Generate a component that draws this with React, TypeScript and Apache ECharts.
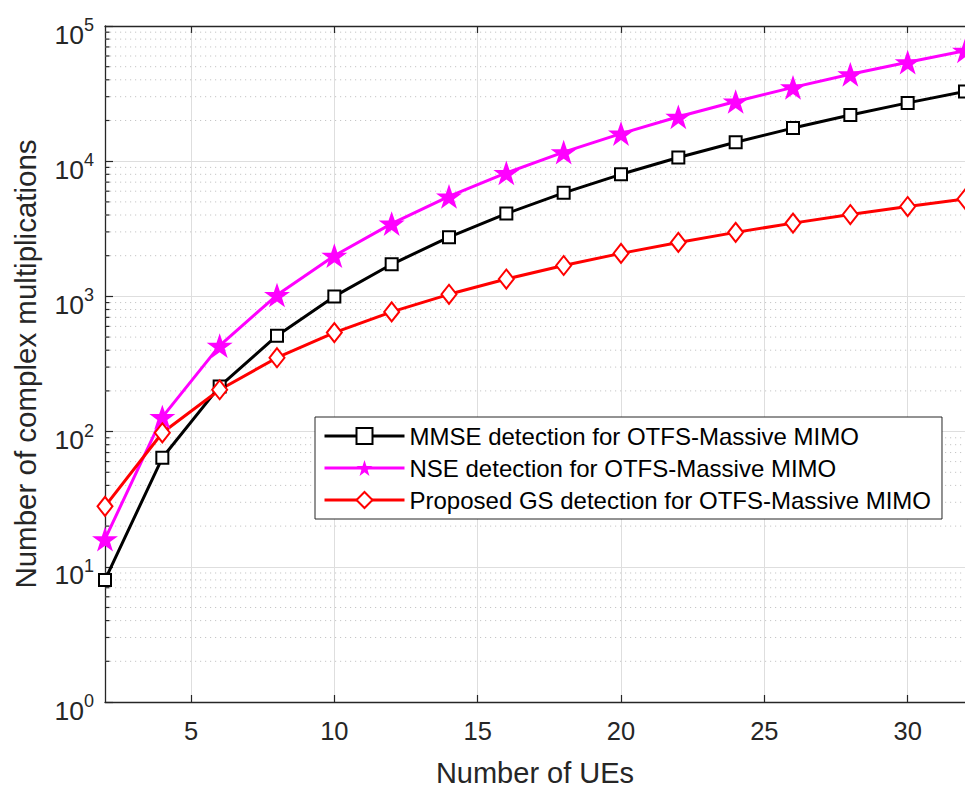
import React, { useEffect, useRef } from 'react';
import * as echarts from 'echarts';

const ues = [2, 4, 6, 8, 10, 12, 14, 16, 18, 20, 22, 24, 26, 28, 30, 32];
const mmse = [8, 64, 216, 512, 1000, 1728, 2744, 4096, 5832, 8000, 10648, 13824, 17576, 21952, 27000, 32768];
const nse = [16, 128, 432, 1024, 2000, 3456, 5488, 8192, 11664, 16000, 21296, 27648, 35152, 43904, 54000, 65536];
const gs = [28, 98, 204, 352, 540, 768, 1036, 1344, 1692, 2080, 2508, 2976, 3484, 4032, 4620, 5248];
const xTicks = [5, 10, 15, 20, 25, 30];
const minorY = [
  2, 3, 4, 5, 6, 7, 8, 9,
  20, 30, 40, 50, 60, 70, 80, 90,
  200, 300, 400, 500, 600, 700, 800, 900,
  2000, 3000, 4000, 5000, 6000, 7000, 8000, 9000,
  20000, 30000, 40000, 50000, 60000, 70000, 80000, 90000,
];
const names = [
  'MMSE detection for OTFS-Massive MIMO',
  'NSE detection for OTFS-Massive MIMO',
  'Proposed GS detection for OTFS-Massive MIMO',
];

const FONT = 'Liberation Sans, Arial, Helvetica, sans-serif';
const AX = '#262626';
const STAR = 'path://M12,0 L14.9,8.6 L24,8.6 L16.6,14 L19.4,22.8 L12,17.4 L4.6,22.8 L7.4,14 L0,8.6 L9.1,8.6 Z';

export default function App() {
  const ref = useRef<HTMLDivElement>(null);
  useEffect(() => {
    if (!ref.current) return;
    const chart = echarts.init(ref.current, null, { renderer: 'svg' });
    const xMin = ues[0];
    const xMax = ues[ues.length - 1];
    chart.setOption({
      animation: false,
      backgroundColor: '#ffffff',
      textStyle: { fontFamily: FONT },
      grid: { left: 105, top: 26, width: 868, height: 685 },
      legend: {
        orient: 'vertical',
        left: 315,
        top: 417,
        data: names,
        selectedMode: false,
        backgroundColor: '#ffffff',
        borderColor: AX,
        borderWidth: 1,
        borderRadius: 0,
        padding: [7, 11, 7, 8],
        itemWidth: 80,
        itemHeight: 20,
        itemGap: 8,
        lineStyle: { width: 3 },
        textStyle: { fontFamily: FONT, fontSize: 24, color: '#000' },
      },
      xAxis: [
        {
          type: 'value',
          min: xMin,
          max: xMax,
          name: 'Number of UEs',
          nameLocation: 'middle',
          nameGap: 56,
          nameTextStyle: { fontFamily: FONT, fontSize: 29, color: AX },
          axisLine: { lineStyle: { color: AX, width: 1.3 } },
          axisTick: { inside: true, length: 7, customValues: xTicks, lineStyle: { color: AX, width: 1.2 } },
          axisLabel: { customValues: xTicks, fontFamily: FONT, fontSize: 25.5, color: AX, margin: 16 },
          splitLine: { show: true, lineStyle: { color: '#dedede', width: 1 } },
        },
        {
          type: 'value',
          position: 'top',
          min: xMin,
          max: xMax,
          axisLine: { show: true, lineStyle: { color: AX, width: 1.3 } },
          axisTick: { show: true, inside: true, length: 7, customValues: xTicks, lineStyle: { color: AX, width: 1.2 } },
          axisLabel: { show: false },
          splitLine: { show: false },
        },
      ],
      yAxis: {
        type: 'log',
        logBase: 10,
        min: 1,
        max: 100000,
        name: 'Number of complex multiplications',
        nameLocation: 'middle',
        nameGap: 65,
        nameTextStyle: { fontFamily: FONT, fontSize: 29.5, color: AX },
        axisLine: { show: true, lineStyle: { color: AX, width: 1.3 } },
        axisTick: { show: true, inside: true, length: 8, lineStyle: { color: AX, width: 1.2 } },
        axisLabel: {
          margin: 11,
          padding: [12, 0, 0, 0],
          formatter: (v: number) => `{b|10}{s|${Math.round(Math.log10(v))}}`,
          rich: {
            b: { fontFamily: FONT, fontSize: 26.5, color: AX, lineHeight: 32, verticalAlign: 'bottom' },
            s: { fontFamily: FONT, fontSize: 18, color: AX, lineHeight: 16, verticalAlign: 'top' },
          },
        },
        splitLine: { show: true, lineStyle: { color: '#dedede', width: 1 } },
      },
      series: [
        {
          type: 'custom',
          name: 'minor',
          silent: true,
          z: 1,
          data: minorY.map((v) => [xMin, v]),
          renderItem: (_p: any, api: any) => {
            const v = api.value(1);
            const a = api.coord([xMin, v]);
            const b = api.coord([xMax, v]);
            return {
              type: 'group',
              children: [
                {
                  type: 'line',
                  shape: { x1: a[0], y1: a[1], x2: b[0], y2: b[1] },
                  style: { stroke: '#c6c6c6', lineWidth: 1, lineDash: [1.2, 3.8] },
                },
                {
                  type: 'line',
                  shape: { x1: a[0], y1: a[1], x2: a[0] + 4.5, y2: a[1] },
                  style: { stroke: AX, lineWidth: 1.2 },
                },
              ],
            };
          },
        },
        {
          type: 'line',
          name: names[0],
          data: ues.map((x, i) => [x, mmse[i]]),
          symbol: 'emptyRect',
          symbolSize: 12,
          lineStyle: { color: '#000000', width: 3 },
          itemStyle: { color: '#000000', borderWidth: 2.6 },
          z: 3,
        },
        {
          type: 'line',
          name: names[1],
          data: ues.map((x, i) => [x, nse[i]]),
          symbol: STAR,
          symbolKeepAspect: true,
          symbolSize: 26,
          lineStyle: { color: '#ff00ff', width: 3 },
          itemStyle: { color: '#ff00ff', borderWidth: 0 },
          z: 3,
        },
        {
          type: 'line',
          name: names[2],
          data: ues.map((x, i) => [x, gs[i]]),
          symbol: 'emptyDiamond',
          symbolSize: [15, 19],
          lineStyle: { color: '#ff0000', width: 3 },
          itemStyle: { color: '#ff0000', borderWidth: 2.6 },
          z: 3,
        },
      ],
    });
    return () => chart.dispose();
  }, []);
  return (
    <div
      ref={ref}
      style={{ position: 'absolute', left: 0, top: 0, width: 965, height: 792, background: '#fff' }}
    />
  );
}
